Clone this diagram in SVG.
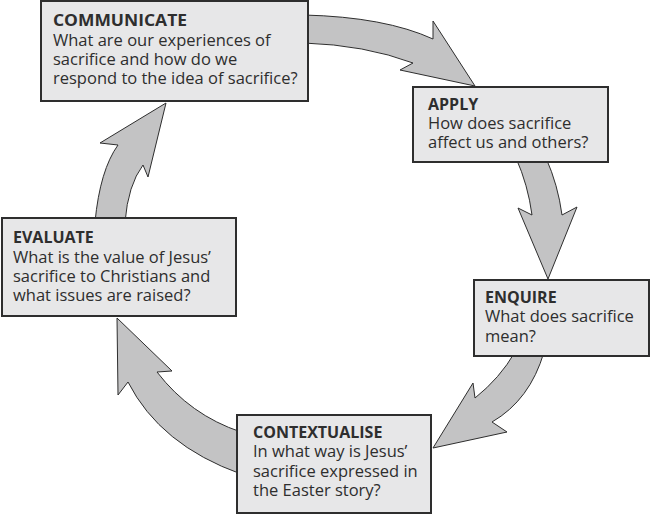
<svg xmlns="http://www.w3.org/2000/svg" width="650" height="514" viewBox="0 0 650 514">
<style>
.box{fill:#e7e7e8;stroke:#2e2e2e;stroke-width:2}
.arr{fill:#c3c3c4;stroke:#2e2e2e;stroke-width:1;stroke-linejoin:miter}
text{font-family:"Open Sans","Noto Sans",sans-serif;fill:#2e2e2e;font-size:16.5px}
.t{font-weight:bold;font-size:16px}
</style>
<rect width="650" height="514" fill="#ffffff"/>
<g id="connectors">
<path class="arr" d="M 304 15 Q 385 17 433 39 L 433 21 L 475 86 L 400 70 L 413 63 Q 365 45 304 43 Z"/>
<path class="arr" d="M 516 158 Q 528 185 532 215 L 518 208 L 548 279 L 577 207 L 562 215 Q 558 185 546 158 Z"/>
<path class="arr" d="M 515 352 Q 500 378 475 398 L 473 383 L 433 448 L 507 432 L 492 422 Q 530 400 544 352 Z"/>
<path class="arr" d="M 241 432 Q 190 415 157 372 L 172 371 L 117 318 L 118 395 L 128 382 Q 160 445 241 474 Z"/>
<path class="arr" d="M 95 222 Q 100 170 118 145 L 100 143 L 166 103 L 148 177 L 143 165 Q 128 185 125 222 Z"/>
</g>
<g id="communicate">
<rect class="box" x="41" y="1" width="267" height="100"/>
<text x="53" y="26" class="t" textLength="134" lengthAdjust="spacingAndGlyphs">COMMUNICATE</text>
<text x="53" y="46">What are our experiences of</text>
<text x="53" y="65">sacrifice and how do we</text>
<text x="53" y="84">respond to the idea of sacrifice?</text>
</g>
<g id="apply">
<rect class="box" x="413" y="87" width="195" height="75"/>
<text x="428" y="110" class="t">APPLY</text>
<text x="428" y="129">How does sacrifice</text>
<text x="428" y="148">affect us and others?</text>
</g>
<g id="enquire">
<rect class="box" x="474" y="280" width="175" height="76"/>
<text x="485" y="303" class="t">ENQUIRE</text>
<text x="485" y="322">What does sacrifice</text>
<text x="485" y="342">mean?</text>
</g>
<g id="contextualise">
<rect class="box" x="237" y="415" width="194" height="98"/>
<text x="253" y="438" class="t">CONTEXTUALISE</text>
<text x="253" y="457">In what way is Jesus’</text>
<text x="253" y="477">sacrifice expressed in</text>
<text x="253" y="496">the Easter story?</text>
</g>
<g id="evaluate">
<rect class="box" x="2" y="218" width="234" height="98"/>
<text x="13" y="243" class="t">EVALUATE</text>
<text x="13" y="263">What is the value of Jesus’</text>
<text x="13" y="282">sacrifice to Christians and</text>
<text x="13" y="301">what issues are raised?</text>
</g>
</svg>
